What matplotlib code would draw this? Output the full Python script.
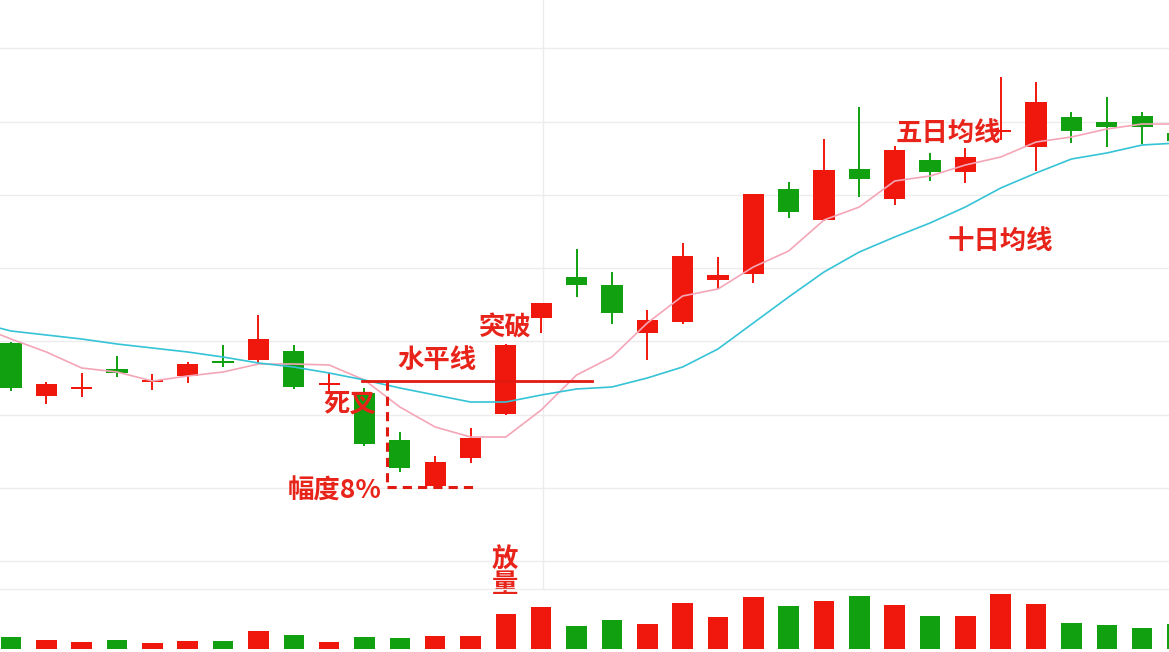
import numpy as np
import matplotlib
matplotlib.use("Agg")
import matplotlib.pyplot as plt

plt.rcParams['font.family'] = ['Noto Sans CJK SC', 'DejaVu Sans']

# K线数据 (开, 收, 高, 低)
opens = [25.7, 20.4, 21.1, 23.1, 21.8, 22.4, 23.9, 24.0, 24.9, 21.5, 20.7, 16.0,
         11.4, 14.2, 18.6, 28.2, 32.3, 31.5, 26.7, 27.8, 32.0, 32.6, 41.1, 38.0,
         43.1, 40.1, 44.0, 42.8, 46.8, 45.3, 48.3, 47.8, 48.4, 46.7]
closes = [21.2, 21.6, 21.3, 22.7, 22.0, 23.6, 23.7, 26.1, 21.3, 21.7, 15.6, 13.2,
          13.8, 16.2, 25.5, 29.7, 31.5, 28.7, 28.0, 34.4, 32.5, 40.6, 38.8, 43.0,
          42.1, 45.0, 42.8, 44.3, 47.0, 49.8, 46.9, 47.3, 47.3, 45.9]
highs = [25.8, 21.8, 22.7, 24.4, 22.6, 23.8, 25.5, 28.5, 25.5, 22.7, 21.2, 16.8,
         14.4, 17.2, 25.6, 29.7, 35.1, 32.8, 29.0, 35.7, 34.3, 40.6, 41.8, 46.1,
         49.3, 45.4, 44.7, 45.2, 52.3, 51.8, 48.8, 50.3, 48.8, 47.0]
lows = [20.9, 19.6, 20.3, 22.3, 21.0, 21.7, 23.3, 23.7, 21.1, 20.8, 15.4, 12.8,
        11.3, 13.7, 18.5, 26.7, 30.3, 27.6, 24.0, 27.6, 31.1, 31.7, 38.2, 37.9,
        40.3, 39.5, 41.9, 41.7, 46.0, 42.9, 45.7, 45.3, 45.6, 45.7]
volume = [12, 9, 7, 9, 6, 8, 8, 18, 14, 7, 12, 11, 13, 13, 35, 42, 23, 29, 25, 46,
          32, 52, 43, 48, 53, 44, 33, 33, 55, 45, 26, 24, 21, 25]

# 均线 (从前一天开始)
ma5 = [27.5, 26.1, 24.8, 23.2, 22.8, 21.9, 22.4, 22.8, 23.6, 23.6, 23.5, 22.0,
       19.3, 17.3, 16.3, 16.3, 19.0, 22.5, 24.3, 27.7, 30.4, 31.1, 33.3, 34.9,
       38.0, 39.3, 41.9, 42.4, 43.5, 44.3, 45.8, 46.3, 47.1, 47.6, 47.6]
ma10 = [27.8, 26.9, 26.5, 26.1, 25.6, 25.2, 24.8, 24.3, 23.7, 23.3, 22.7, 22.0,
        21.2, 20.5, 19.8, 19.8, 20.5, 21.1, 21.3, 22.2, 23.3, 25.1, 27.7, 30.3,
        32.8, 34.8, 36.3, 37.7, 39.3, 41.2, 42.7, 44.1, 44.7, 45.5, 45.7]

grid_levels = [3.9, 11.2, 18.5, 25.9, 33.2, 40.5, 47.8, 55.2]

RED = '#f0180c'
GREEN = '#10a010'
TXT = '#e8231a'

fig = plt.figure(figsize=(11.69, 6.52), dpi=100)
ax = fig.add_axes([0, 0, 1, 1])
vax = fig.add_axes([0, 0, 1, 1], facecolor='none')

x = np.arange(len(opens))
xlim = (-0.311, 32.76)

for g in grid_levels:
    ax.axhline(g, color='#ececec', lw=1, zorder=0)
ax.axvline(15.05, ymin=0.097, ymax=1, color='#ececec', lw=1, zorder=0)

o = np.array(opens)
c = np.array(closes)
up = c >= o
cols = [RED if u else GREEN for u in up]
body_bot = np.minimum(o, c)
body_h = np.maximum(np.abs(c - o), 0.2)

ax.vlines(x, lows, highs, colors=cols, lw=1.4, zorder=2)
ax.bar(x, body_h, bottom=body_bot, width=0.6, color=cols, zorder=3)

xm = np.arange(-1, len(ma5) - 1)
ax.plot(xm, ma5, color='#f4a6b7', lw=1.2, zorder=4)
ax.plot(xm, ma10, color='#35c3d6', lw=1.2, zorder=4)

# 标注
ax.plot([9.93, 16.44], [21.9, 21.9], color='#e01a10', lw=2, zorder=5)
ax.plot([10.64, 10.64], [21.9, 11.3], color='#e01a10', lw=2.2, ls=(0, (3, 2)), zorder=5)
ax.plot([10.64, 13.10], [11.3, 11.3], color='#e01a10', lw=2.2, ls=(0, (3, 2)), zorder=5)

kw = dict(color=TXT, fontsize=19, fontweight='bold', ha='center', va='center', zorder=6)
ax.text(26.51, 46.7, '五日均线', **kw)
ax.text(27.98, 35.9, '十日均线', **kw)
ax.text(13.97, 27.3, '突破', **kw)
ax.text(12.05, 23.9, '水平线', **kw)
ax.text(9.59, 19.6, '死叉', **kw)
ax.text(9.17, 10.9, '幅度8%', **kw)
ax.text(13.97, 2.8, '放\n量', linespacing=0.95, **kw)

ax.set_xlim(*xlim)
ax.set_ylim(-5.2, 60)
ax.axis('off')

# 成交量
vax.axhline(60, color='#ececec', lw=1, zorder=0)
vax.bar(x, volume, width=0.58, color=cols, zorder=2)
vax.set_xlim(*xlim)
vax.set_ylim(-3, 649)
vax.axis('off')

fig.savefig('out.png', dpi=100, facecolor='white')
